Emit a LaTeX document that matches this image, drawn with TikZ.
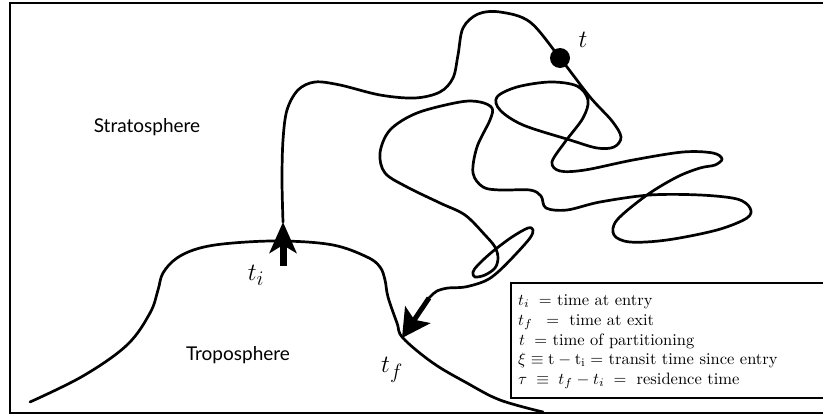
\documentclass[tikz,border=0pt]{standalone}
\usepackage{fontspec}
\usepackage{graphicx}
\setsansfont{Lato}
\usetikzlibrary{arrows.meta}
\newcommand{\legtext}[1]{\scalebox{1.65}{#1}}
\begin{document}
\begin{tikzpicture}[x=1pt,y=-1pt,
  traj/.style={line width=2.7pt, line cap=round, line join=round},
  bigarrow/.style={line width=7pt, -{Stealth[length=31pt,width=27pt,inset=8pt]}},
  midarrow/.style={line width=5pt, -{Stealth[length=28pt,width=30pt,inset=6pt]}},
  region/.style={font=\sffamily\fontsize{19}{22}\selectfont},
  mathlbl/.style={font=\fontsize{28}{30}\selectfont},
  legline/.style={anchor=base west, inner sep=0pt}]
\useasboundingbox (0,0) rectangle (823,418);
% frame
\draw[line width=1.8pt] (830,3) -- (10,3) -- (10,413) -- (830,413);
% tropopause
\draw[traj] plot[smooth, tension=0.6] coordinates {
 (30,402) (83,376) (127,345) (150,313) (158,290) (163,273) (177,258) (200,248)
 (233,243) (283,241) (333,245) (367,257) (380,267) (385,280) (388,297) (397,323)
 (403,338) (433,363) (467,383) (500,400) (543,412)};
% trajectory
\coordinate (start) at (283,222);
\coordinate (endp) at (429,298);
\draw[traj] plot[smooth, tension=0.55] coordinates {
 (283,222) (282,180) (283,140) (287,110) (298,90) (315,82) (340,85) (380,95)
 (415,98) (440,92) (453,78) (458,55) (463,28) (478,14) (500,12) (530,22) (560,58)
 (590,97) (612,121) (621,137) (614,147) (597,148) (570,140) (523,125) (500,110)
 (497,97) (517,87) (550,82) (577,86) (588,100) (583,118) (565,142) (552,162)
 (560,171) (585,170) (633,160) (683,152) (713,153) (722,159) (715,165) (700,168)
 (677,177) (647,195) (617,220) (614,235) (630,242) (667,240) (717,230) (747,218)
 (750,208) (737,199) (700,195) (650,195) (600,202) (567,210) (546,208) (541,196)
 (530,190) (500,190) (483,187) (473,173) (477,147) (490,120) (492,108) (480,102)
 (460,102) (417,113) (390,130) (380,153) (385,173) (407,187) (440,203) (465,215)
 (485,235) (495,247) (498,258) (495,268) (485,275) (475,277) (473,272) (478,265)
 (492,252) (512,237) (528,228) (533,230) (530,238) (515,255) (498,272) (485,281)
 (465,287) (448,288) (437,291) (431,296) (429,298)};
% arrows
\coordinate (tibase) at (283,266);
\draw[bigarrow] (tibase) -- (start);
\coordinate (tftip) at (402,338);
\draw[midarrow] (endp) -- (tftip);
% dot
\fill (560,58) circle (10pt);
% labels
\node[region] (strat) at (147,127) {Stratosphere};
\node[region] (tropo) at (238,355) {Troposphere};
\node[mathlbl] (ti) at (256,275) {$t_i$};
\node[mathlbl] (tf) at (392,370) {$t_f$};
\node[mathlbl] (t) at (583,40) {$t$};
% legend
\draw[line width=1.6pt] (830,283) -- (511,283) -- (511,398) -- (830,398);
\node[legline] (l1) at (518,305) {\legtext{$t_i\;=$ time at entry}};
\node[legline] (l2) at (518,325) {\legtext{$t_f\;\;=\;$ time at exit}};
\node[legline] (l3) at (519,345) {\legtext{$t\;=$ time of partitioning}};
\node[legline] (l4) at (518,364) {\legtext{$\xi\equiv\mathrm{t}-\mathrm{t_i}=$ transit time since entry}};
\node[legline] (l5) at (518,384) {\legtext{$\tau\;\equiv\;t_f-t_i\;=\;$ residence time}};
\end{tikzpicture}
\end{document}
